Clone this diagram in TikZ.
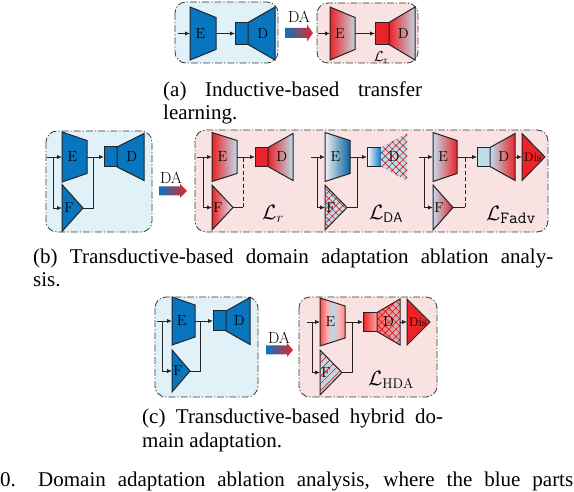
\documentclass[tikz,border=0pt]{standalone}
\usepackage{fontspec}
\newfontfamily\capfont{Liberation Serif}
\usetikzlibrary{arrows.meta,patterns.meta}
\definecolor{eblue}{RGB}{8,118,190}
\definecolor{lblue}{RGB}{190,222,235}
\definecolor{gblue}{RGB}{196,212,222}
\definecolor{ered}{RGB}{235,35,40}
\definecolor{bgblue}{RGB}{224,242,248}
\definecolor{bgred}{RGB}{248,226,226}
\definecolor{edge}{RGB}{35,35,40}
\pgfdeclarehorizontalshading{estripe}{100bp}{color(0bp)=(red!70);color(25bp)=(red!70);color(40bp)=(red!30);color(47bp)=(gblue);color(55bp)=(gblue);color(62bp)=(red!30);color(75bp)=(red!45);color(100bp)=(red!45)}
\tikzset{
 shp/.style={draw=edge,line width=1pt,line join=miter},
 conn/.style={draw=edge,line width=0.9pt,-{Latex[length=5pt,width=4.5pt]}},
 wire/.style={draw=edge,line width=0.9pt},
 dwire/.style={wire,dash pattern=on 4pt off 2.5pt},
 lbl/.style={inner sep=0pt,font=\fontsize{14.5}{14.5}\selectfont},
 frame/.style={draw=edge!90,line width=0.8pt,rounded corners=11pt,dash pattern=on 7pt off 2pt on 1.2pt off 2pt},
 captxt/.style={inner sep=0pt,anchor=base west,font=\capfont\fontsize{21}{23}\selectfont},
 loss/.style={inner sep=0pt,font=\fontsize{20}{20}\selectfont},
 datext/.style={inner sep=0pt,font=\fontsize{16}{16}\selectfont},
 xhatch/.style={postaction={pattern={Hatch[angle=45,distance=5pt,line width=0.5pt]},pattern color=red!85!black}},
 nehatch/.style={postaction={pattern={Lines[angle=45,distance=5pt,line width=0.5pt]},pattern color=red!85!black}},
}
% all y arguments below are measured downwards from the top edge
% trapezoid: name, xl, xr, yc, hl, hr, style, label, label fraction
\newcommand{\Trap}[9]{%
 \path[shp,#7] ({#2},{-#4+#5/2}) -- ({#3},{-#4+#6/2}) -- ({#3},{-#4-#6/2}) -- ({#2},{-#4-#5/2}) -- cycle;
 \coordinate (#1-in) at ({#2},{-#4});
 \coordinate (#1-out) at ({#3},{-#4});
 \node[lbl] (#1) at ({#2+#9*(#3-#2)},{-#4}) {#8};}
% block: name, xl, xr, yc, h, style
\newcommand{\Blk}[6]{%
 \path[shp,#6] ({#2},{-#4+#5/2}) rectangle ({#3},{-#4-#5/2});
 \coordinate (#1-in) at ({#2},{-#4});
 \coordinate (#1-out) at ({#3},{-#4});}
% triangle: name, xl, xr, yc, h, style, label, label x
\newcommand{\Tri}[8]{%
 \path[shp,#6] ({#2},{-#4+#5/2}) -- ({#3},{-#4}) -- ({#2},{-#4-#5/2}) -- cycle;
 \coordinate (#1-in) at ({#2},{-#4});
 \coordinate (#1-out) at ({#3},{-#4});
 \node[lbl] (#1) at ({#8},{-#4}) {#7};}
% DA arrow: name, x0, xb, xtip, yc, half body, half head
\newcommand{\DAarrow}[7]{%
 \path[left color=eblue,middle color=white!85!lblue,right color=ered] ({#2},{-#5+#6}) -- ({#3},{-#5+#6}) -- ({#3},{-#5+#7}) -- ({#4},{-#5}) -- ({#3},{-#5-#7}) -- ({#3},{-#5-#6}) -- ({#2},{-#5-#6}) -- cycle;
 \coordinate (#1) at ({#2},{-#5});}
\begin{document}
\begin{tikzpicture}[x=1pt,y=1pt]
\useasboundingbox (0,0) rectangle (574,-492);
\clip (0,0) rectangle (574,-492);
\fill[white] (0,0) rectangle (574,-492);
% ---------------- (a)
\path[frame,fill=bgblue] (175,-2) rectangle (278,-63);
\path[frame,fill=bgred] (317,-3) rectangle (418,-63);
\Trap{aBE}{190}{216}{33.5}{53}{32}{fill=eblue}{E}{0.4}
\Blk{aBB}{235}{248}{33.5}{22}{fill=eblue}
\Trap{aBD}{248}{275}{33.5}{22}{53}{fill=eblue}{D}{0.55}
\coordinate (aBs) at (178,-33.5);
\draw[conn] (aBs) -- (aBE-in);
\draw[conn] (aBE-out) -- (aBB-in);
\Trap{aRE}{330}{355}{33.5}{53}{32}{left color=ered,right color=gblue}{E}{0.4}
\Blk{aRB}{375}{389}{33.5}{22}{fill=ered}
\Trap{aRD}{389}{415}{33.5}{22}{53}{left color=ered,right color=gblue}{D}{0.55}
\coordinate (aRs) at (318,-33.5);
\draw[conn] (aRs) -- (aRE-in);
\draw[conn] (aRE-out) -- (aRB-in);
\node[inner sep=0pt,font=\fontsize{14}{14}\selectfont] (aL) at (381,-58) {$\mathcal{L}_{\mathrm{r}}$};
\DAarrow{aDA}{285}{307}{313}{33}{5}{8.5}
\node[datext] (aDAt) at (299,-17) {DA};
\node[captxt] (capa1) at (163,-97) {\makebox[259pt][s]{(a) Inductive-based transfer}};
\node[captxt] (capa2) at (163,-120) {learning.};
% ---------------- (b)
\path[frame,fill=bgblue] (46,-131) rectangle (152,-232);
\path[frame,fill=bgred] (195,-130) rectangle (548,-232);
\Trap{bBE}{62}{87}{157}{50}{33}{fill=eblue}{E}{0.42}
\Blk{bBB}{104}{117}{157}{20}{fill=eblue}
\Trap{bBD}{117}{144}{157}{20}{47}{fill=eblue}{D}{0.55}
\Tri{bBF}{62}{83}{208}{47}{fill=eblue}{F}{69}
\coordinate (bBs) at (47,-157);
\coordinate (bBbr) at (53,-157);
\coordinate (bBj) at (93,-157);
\draw[conn] (bBs) -- (bBE-in);
\draw[conn] (bBbr) |- (bBF-in);
\draw[conn] (bBE-out) -- (bBB-in);
\draw[wire] (bBF-out) -| (bBj);
\DAarrow{bDA}{159}{180}{187}{191}{4.5}{7}
\node[datext] (bDAt) at (171,-178) {DA};
% sub 1
\Trap{b1E}{212}{237}{157}{49}{33}{left color=ered,right color=lblue}{E}{0.42}
\Blk{b1B}{255}{268}{157}{19}{fill=ered}
\Trap{b1D}{268}{293}{157}{19}{47}{left color=ered,right color=lblue}{D}{0.55}
\Tri{b1F}{212}{233}{207.5}{45}{left color=ered,right color=lblue!60!white}{F}{218}
\coordinate (b1s) at (197,-157);
\coordinate (b1br) at (203,-157);
\coordinate (b1j) at (243,-157);
\coordinate (b1k) at (243,-207.5);
\draw[conn] (b1s) -- (b1E-in);
\draw[conn] (b1br) |- (b1F-in);
\draw[conn] (b1E-out) -- (b1B-in);
\draw[wire] (b1F-out) -- (b1k);
\draw[dwire] (b1k) -- (b1j);
\node[loss] (b1L) at (273,-214) {$\mathcal{L}_r$};
% sub 2
\Trap{b2E}{325}{350}{157}{49}{33}{left color=gray!12,right color=eblue!85!black}{E}{0.42}
\Blk{b2B}{367}{381}{157}{19}{left color=white,right color=eblue}
\Trap{b2D}{381}{407}{157}{19}{47}{draw=none,fill=lblue,xhatch}{D}{0.5}
\Tri{b2F}{325}{347}{207.5}{45}{fill=lblue,xhatch}{F}{331}
\coordinate (b2s) at (311,-157);
\coordinate (b2br) at (317,-157);
\coordinate (b2j) at (357,-157);
\draw[conn] (b2s) -- (b2E-in);
\draw[conn] (b2br) |- (b2F-in);
\draw[conn] (b2E-out) -- (b2B-in);
\draw[wire] (b2F-out) -| (b2j);
\node[loss] (b2L) at (386,-214) {$\mathcal{L}_{\mathsf{DA}}$};
% sub 3
\Trap{b3E}{433}{457}{157}{49}{33}{left color=lblue,right color=ered}{E}{0.42}
\Blk{b3B}{477}{490}{157}{19}{left color=lblue,middle color=white,right color=lblue}
\Trap{b3D}{490}{515}{157}{19}{47}{left color=lblue,right color=ered}{D}{0.55}
\Tri{b3S}{522}{545}{157}{47}{fill=ered}{\fontsize{12.5}{13}\selectfont Dis}{533}
\Tri{b3F}{433}{453}{207.5}{45}{left color=lblue,right color=ered}{F}{439}
\coordinate (b3s) at (419,-157);
\coordinate (b3br) at (424,-157);
\coordinate (b3j) at (465,-157);
\coordinate (b3k) at (465,-207.5);
\draw[conn] (b3s) -- (b3E-in);
\draw[conn] (b3br) |- (b3F-in);
\draw[conn] (b3E-out) -- (b3B-in);
\draw[conn] (b3D-out) -- (b3S-in);
\draw[wire] (b3F-out) -- (b3k);
\draw[dwire] (b3k) -- (b3j);
\node[loss] (b3L) at (511,-215) {$\mathcal{L}_{\hbox{\fontsize{17}{17}\selectfont\ttfamily Fadv}}$};
\node[captxt] (capb1) at (33,-264) {\makebox[520pt][s]{(b) Transductive-based domain adaptation ablation analy-}};
\node[captxt] (capb2) at (33,-287) {sis.};
% ---------------- (c)
\path[frame,fill=bgblue] (155,-297) rectangle (258,-397);
\path[frame,fill=bgred] (299,-297) rectangle (437,-397);
\Trap{cBE}{172}{195}{321}{48}{32}{fill=eblue}{E}{0.42}
\Blk{cBB}{213}{226}{321}{20}{fill=eblue}
\Trap{cBD}{226}{250}{321}{20}{47}{fill=eblue}{D}{0.55}
\Tri{cBF}{172}{190}{371}{42}{fill=eblue}{F}{178}
\coordinate (cBs) at (157,-321);
\coordinate (cBbr) at (162,-321);
\coordinate (cBj) at (200,-321);
\draw[conn] (cBs) -- (cBE-in);
\draw[conn] (cBbr) |- (cBF-in);
\draw[conn] (cBE-out) -- (cBB-in);
\draw[wire] (cBF-out) -| (cBj);
\DAarrow{cDA}{266}{287}{293}{350}{4.5}{7}
\node[datext] (cDAt) at (279,-338) {DA};
\Trap{cRE}{320}{345}{322}{48}{32}{shading=estripe}{E}{0.42}
\Blk{cRB}{363}{377}{322}{19}{left color=ered,right color=red!35}
\Trap{cRD}{377}{400}{322}{19}{46}{left color=red!60,right color=red!10!gblue,xhatch}{D}{0.5}
\Tri{cRS}{407}{430}{322}{46}{fill=ered}{\fontsize{12.5}{13}\selectfont Dis}{418}
\Tri{cRF}{320}{342}{372.5}{45}{fill=gblue,nehatch}{F}{326}
\coordinate (cRs) at (307,-322);
\coordinate (cRbr) at (312,-322);
\coordinate (cRj) at (352,-322);
\draw[conn] (cRs) -- (cRE-in);
\draw[conn] (cRbr) |- (cRF-in);
\draw[conn] (cRE-out) -- (cRB-in);
\draw[conn] (cRD-out) -- (cRS-in);
\draw[wire] (cRF-out) -| (cRj);
\node[loss] (cL) at (391,-380) {$\mathcal{L}_{\mathrm{HDA}}$};
\node[captxt] (capc1) at (142,-424) {\makebox[301pt][s]{(c) Transductive-based hybrid do-}};
\node[captxt] (capc2) at (142,-447) {main adaptation.};
% ---------------- figure caption (last line)
\node[captxt] (capf0) at (0,-486) {0.};
\node[captxt] (capf) at (38,-486) {\makebox[535pt][s]{Domain adaptation ablation analysis, where the blue parts}};
\end{tikzpicture}
\end{document}
